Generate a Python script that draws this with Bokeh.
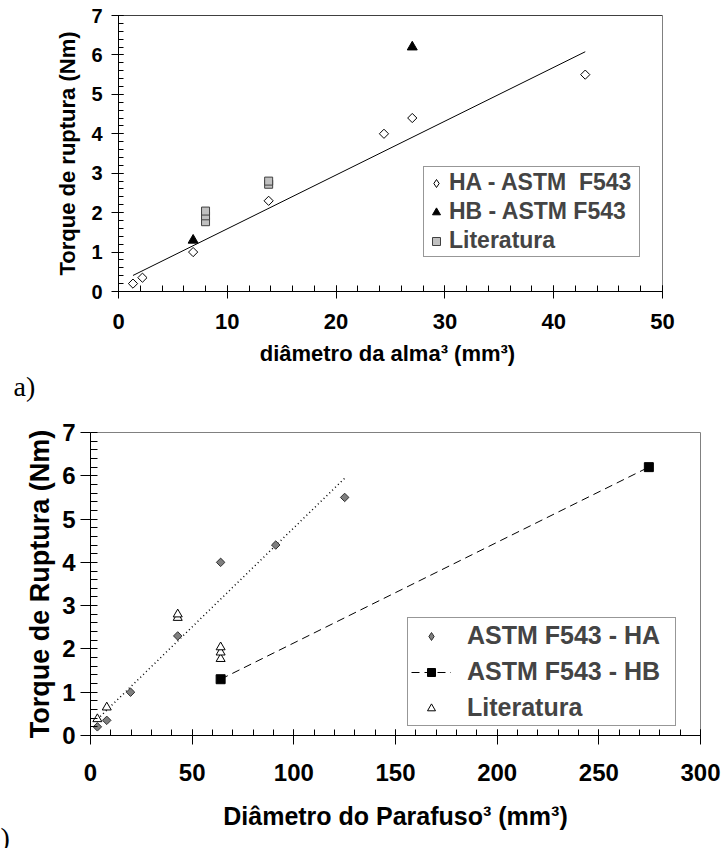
import numpy as np
from bokeh.plotting import figure
from bokeh.models import Range1d, FixedTicker, Legend, LegendItem, Span, Title
from bokeh.embed import file_html
from bokeh.resources import INLINE

# ---------------- data (a) : core diameter cubed ----------------
ha_core_x = [1.33, 2.2, 6.86, 13.8, 24.4, 27.0, 42.9]
ha_y = [0.2, 0.35, 1.0, 2.3, 4.0, 4.4, 5.5]
hb_core_x = [6.86, 27.0]
hb_y = [1.3, 6.2]
lit_core_x = [8.0, 8.0, 8.0, 13.8, 13.8]
lit_core_y = [1.77, 1.92, 2.04, 2.72, 2.8]

# ---------------- data (b) : screw diameter cubed ----------------
ha_screw_x = [3.375, 8.0, 19.7, 42.9, 64.0, 91.1, 125.0]
hb_screw_x = [64.0, 274.6]
lit_screw_x = [3.375, 8.0, 42.9, 42.9, 64.0, 64.0, 64.0]
lit_screw_y = [0.38, 0.65, 2.72, 2.8, 1.77, 1.92, 2.04]

# ---------------- ticks ----------------
xa_ticks = [0, 10, 20, 30, 40, 50]
xa_minor = [0, 2, 4, 6, 8, 10, 12, 14, 16, 18, 20, 22, 24, 26, 28, 30, 32, 34, 36, 38, 40, 42, 44, 46, 48, 50]
xb_ticks = [0, 50, 100, 150, 200, 250, 300]
xb_minor = [0, 10, 20, 30, 40, 50, 60, 70, 80, 90, 100, 110, 120, 130, 140, 150, 160, 170, 180, 190, 200,
            210, 220, 230, 240, 250, 260, 270, 280, 290, 300]
y_ticks = [0, 1, 2, 3, 4, 5, 6, 7]
y_minor = [0, 0.2, 0.4, 0.6, 0.8, 1, 1.2, 1.4, 1.6, 1.8, 2, 2.2, 2.4, 2.6, 2.8, 3, 3.2, 3.4, 3.6, 3.8,
           4, 4.2, 4.4, 4.6, 4.8, 5, 5.2, 5.4, 5.6, 5.8, 6, 6.2, 6.4, 6.6, 6.8, 7]

FONT = "Liberation Sans"
NO_POINT = [float("nan")]   # legend-key-only renderers (nothing drawn in the plot)


def make_fig(width, height, xr, yr, mbl, mbr, mbt, mbb):
    p = figure(width=width, height=height, x_range=Range1d(*xr), y_range=Range1d(*yr),
               output_backend="svg", toolbar_location=None,
               min_border_left=mbl, min_border_right=mbr, min_border_top=mbt, min_border_bottom=mbb)
    p.grid.visible = False
    p.background_fill_color = "white"
    p.border_fill_color = "white"
    p.outline_line_color = "#808080"
    p.outline_line_width = 1
    for ax in (p.xaxis, p.yaxis):
        ax.axis_line_color = "black"
        ax.axis_line_width = 1
        ax.major_tick_line_color = "black"
        ax.minor_tick_line_color = "black"
        ax.major_label_text_font = FONT
        ax.major_label_text_font_style = "bold"
        ax.major_label_text_color = "black"
        ax.axis_label_text_font = FONT
        ax.axis_label_text_font_style = "bold"
        ax.axis_label_text_color = "black"
        ax.minor_tick_out = 0
    return p


def style_legend(leg, size, pad, spacing, gw, standoff):
    leg.label_text_font = FONT
    leg.label_text_font_style = "bold"
    leg.label_text_font_size = size
    leg.padding = pad
    leg.spacing = spacing
    leg.margin = 0
    leg.glyph_width = gw
    leg.label_standoff = standoff
    leg.border_line_color = "#303030"
    leg.border_line_width = 1
    leg.background_fill_color = "white"
    leg.background_fill_alpha = 1


# ================= (a) =================
p1 = make_fig(723, 418, (0, 50), (0, 7), 118, 61, 15, 127)
p1.xaxis.ticker = FixedTicker(ticks=xa_ticks, minor_ticks=xa_minor)
p1.yaxis.ticker = FixedTicker(ticks=y_ticks, minor_ticks=y_minor)
p1.xaxis.major_tick_in = 6
p1.xaxis.major_tick_out = 7
p1.xaxis.minor_tick_in = 6
p1.yaxis.major_tick_in = 5
p1.yaxis.major_tick_out = 7
p1.yaxis.minor_tick_in = 5
p1.xaxis.major_label_text_font_size = "22px"
p1.yaxis.major_label_text_font_size = "20px"
p1.xaxis.major_label_standoff = 15
p1.yaxis.major_label_standoff = 9
p1.xaxis.axis_label = "diâmetro da alma³  (mm³)"
p1.yaxis.axis_label = "Torque de ruptura (Nm)"
p1.xaxis.axis_label_text_font_size = "22px"
p1.yaxis.axis_label_text_font_size = "22px"
p1.xaxis.axis_label_standoff = 9
p1.yaxis.axis_label_standoff = 8
p1.add_layout(Span(location=7, dimension="width", line_color="black", line_width=1))

fa = np.polyfit(ha_core_x, ha_y, 1)
fxa = [min(ha_core_x), max(ha_core_x)]
p1.line(fxa, list(np.polyval(fa, fxa)), line_color="black", line_width=1)

p1.scatter(ha_core_x, ha_y, marker="square", angle=np.pi / 4, size=6.5,
           fill_color="white", line_color="black", line_width=1)
r_ha1_key = p1.scatter(x=NO_POINT, y=NO_POINT, marker="diamond", size=10,
                       fill_color="white", line_color="black", line_width=1)
r_hb1 = p1.scatter(hb_core_x, hb_y, marker="triangle", size=10,
                   fill_color="black", line_color="black")
r_lit1 = p1.scatter(lit_core_x, lit_core_y, marker="square", size=8,
                    fill_color="#c0c0c0", line_color="#404040", line_width=1)

leg1 = Legend(items=[LegendItem(label="HA - ASTM  F543", renderers=[r_ha1_key]),
                     LegendItem(label="HB - ASTM F543", renderers=[r_hb1]),
                     LegendItem(label="Literatura", renderers=[r_lit1])],
              location=(305, 34))
style_legend(leg1, "23px", 2, 2, 20, 3)
leg1.label_width = 188
p1.add_layout(leg1)

p1.add_layout(Title(text="a)", align="left", offset=-105, standoff=0,
                    text_font="Liberation Serif", text_font_style="normal",
                    text_font_size="28px", text_color="black"), "below")

# ================= (b) =================
p2 = make_fig(723, 430, (0, 300), (0, 7), 90, 23, 14, 113)
p2.xaxis.ticker = FixedTicker(ticks=xb_ticks, minor_ticks=xb_minor)
p2.yaxis.ticker = FixedTicker(ticks=y_ticks, minor_ticks=y_minor)
p2.xaxis.major_tick_in = 6
p2.xaxis.major_tick_out = 9
p2.xaxis.minor_tick_in = 6
p2.yaxis.major_tick_in = 0
p2.yaxis.major_tick_out = 10
p2.yaxis.minor_tick_in = 7
p2.xaxis.major_label_text_font_size = "24px"
p2.yaxis.major_label_text_font_size = "24px"
p2.xaxis.major_label_standoff = 19
p2.yaxis.major_label_standoff = 5
p2.xaxis.axis_label = "Diâmetro do Parafuso³ (mm³)"
p2.yaxis.axis_label = "Torque de Ruptura (Nm)"
p2.xaxis.axis_label_text_font_size = "25px"
p2.yaxis.axis_label_text_font_size = "27px"
p2.xaxis.axis_label_standoff = 18
p2.yaxis.axis_label_standoff = 4

fb = np.polyfit(ha_screw_x, ha_y, 1)
fxb = [min(ha_screw_x), max(ha_screw_x)]
p2.line(fxb, list(np.polyval(fb, fxb)), line_color="black", line_width=1.5, line_dash="1 3")

r_hbl = p2.line(hb_screw_x, hb_y, line_color="black", line_width=1, line_dash="8 5")
p2.scatter(ha_screw_x, ha_y, marker="square", angle=np.pi / 4, size=6,
           fill_color="#7f7f7f", line_color="#303030", line_width=1)
r_ha2_key = p2.scatter(x=NO_POINT, y=NO_POINT, marker="diamond", size=9,
                       fill_color="#7f7f7f", line_color="#303030", line_width=1)
r_hb2 = p2.scatter(hb_screw_x, hb_y, marker="square", size=9,
                   fill_color="black", line_color="black")
r_lit2 = p2.scatter(lit_screw_x, lit_screw_y, marker="triangle", size=9,
                    fill_color="white", line_color="black", line_width=1)

leg2 = Legend(items=[LegendItem(label="ASTM F543 - HA", renderers=[r_ha2_key]),
                     LegendItem(label="ASTM F543 - HB", renderers=[r_hbl, r_hb2]),
                     LegendItem(label="Literatura", renderers=[r_lit2])],
              location=(317, 9))
style_legend(leg2, "25px", 3, 7, 40, 16)
leg2.label_width = 205
p2.add_layout(leg2)

p2.add_layout(Title(text="b)", align="left", offset=-104, standoff=-26,
                    text_font="Liberation Serif", text_font_style="normal",
                    text_font_size="28px", text_color="black"), "below")

open("out.html", "w").write(file_html([p1, p2], INLINE))
